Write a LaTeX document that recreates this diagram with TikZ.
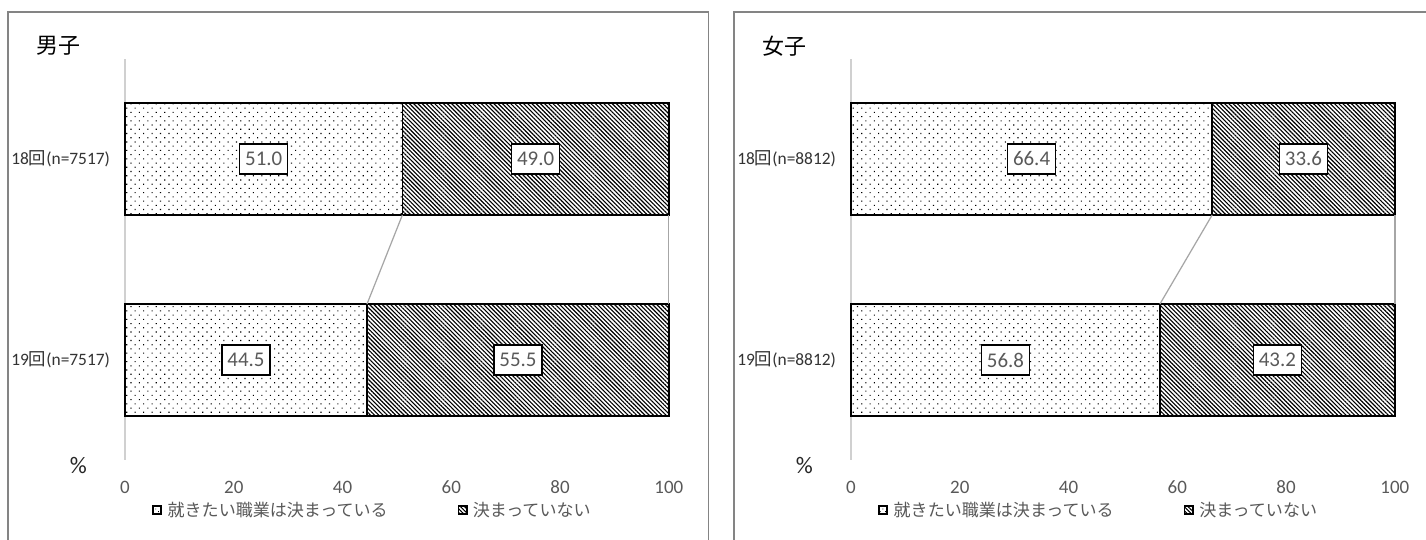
\documentclass[tikz,border=0pt]{standalone}
\usepackage{fontspec}
\setmainfont{Carlito}
\newfontfamily\cjk{Noto Sans CJK JP}
\usetikzlibrary{patterns.meta,positioning}
\definecolor{labelgray}{HTML}{595959}
\definecolor{axisgray}{HTML}{D0D0D0}
\definecolor{seriesgray}{HTML}{A6A6A6}
\definecolor{framegray}{HTML}{848484}
\tikzset{
  bar/.style={draw=black, line width=0.9pt},
  dotbar/.style={bar, pattern={Dots[distance=3.4pt, angle=45, radius=0.45pt]}},
  hatchbar/.style={bar, pattern={Lines[angle=-45, distance=1.7pt, line width=0.65pt]}},
  value/.style={draw=black, line width=0.9pt, fill=white, text=labelgray,
    font=\fontsize{11.9}{14}\selectfont, minimum width=0.96cm, minimum height=0.6cm, inner sep=0pt},
  tick/.style={text=labelgray, font=\fontsize{10.8}{13}\selectfont},
  cat/.style={anchor=east, text=black!80, font=\fontsize{9.9}{12}\selectfont, inner sep=0pt},
  key/.style={draw=black, line width=1.1pt, minimum size=0.17cm, inner sep=0pt},
  keytext/.style={text=labelgray, font=\cjk\fontsize{9.7}{12}\selectfont, inner sep=0pt},
  series/.style={draw=seriesgray, line width=0.7pt}
}
\begin{document}
\begin{tikzpicture}[x=0.02cm, y=-0.02cm]
  \clip (0,0) rectangle (1426,539);
  \fill[white] (0,0) rectangle (1426,539);
  \foreach \p/\ttl/\n/\a/\na/\b/\nb/\sx in {m/男子/7517/51.0/49.0/44.5/55.5/125,
                                             f/女子/8812/66.4/33.6/56.8/43.2/851}{
    \begin{scope}[shift={(\sx,0)}, x=0.1088cm]
      % frame, title, axis
      \draw[framegray, line width=0.85pt] (-21.5,560) -- (-21.5,12) -- (107.3,12) -- (107.3,560);
      \node[font=\cjk\fontsize{12.5}{15}\selectfont] (\p-title) at (-12.3,46) {\ttl};
      \draw[axisgray, line width=0.9pt] (0,59) -- (0,460);
      % bars
      \draw[dotbar]   (0,103)  rectangle (\a,215);
      \draw[hatchbar] (\a,103) rectangle (100,215);
      \draw[dotbar]   (0,304)  rectangle (\b,416);
      \draw[hatchbar] (\b,304) rectangle (100,416);
      % series lines
      \coordinate (\p-a18) at (\a,215);
      \coordinate (\p-a19) at (\b,304);
      \coordinate (\p-e18) at (100,215);
      \coordinate (\p-e19) at (100,304);
      \draw[series] (\p-a18) -- (\p-a19);
      \draw[series] (\p-e18) -- (\p-e19);
      % values
      \node[value] (\p-v18a) at ({\a/2},159) {\a};
      \node[value] (\p-v18b) at ({(\a+100)/2},159) {\na};
      \node[value] (\p-v19a) at ({\b/2},360) {\b};
      \node[value] (\p-v19b) at ({(\b+100)/2},360) {\nb};
      % categories and ticks
      \node[cat] (\p-c18) at (-2.7,159) {18{\cjk 回}(n=\n)};
      \node[cat] (\p-c19) at (-2.7,360) {19{\cjk 回}(n=\n)};
      \node[font=\fontsize{13.5}{15}\selectfont, text=black!85] (\p-pct) at (-8.6,465) {\%};
      \foreach \t in {0,20,...,100}
        \node[tick] (\p-t\t) at (\t,487) {\t};
      % legend
      \node[key, pattern={Dots[distance=2.2pt, angle=45, radius=0.35pt]}] (\p-k1) at (5.9,510) {};
      \node[keytext, right=0.1cm of \p-k1] (\p-k1t) {就きたい職業は決まっている};
      \node[key, pattern={Lines[angle=-45, distance=1.6pt, line width=0.6pt]}] (\p-k2) at (62.1,510) {};
      \node[keytext, right=0.1cm of \p-k2] (\p-k2t) {決まっていない};
    \end{scope}
  }
\end{tikzpicture}
\end{document}
